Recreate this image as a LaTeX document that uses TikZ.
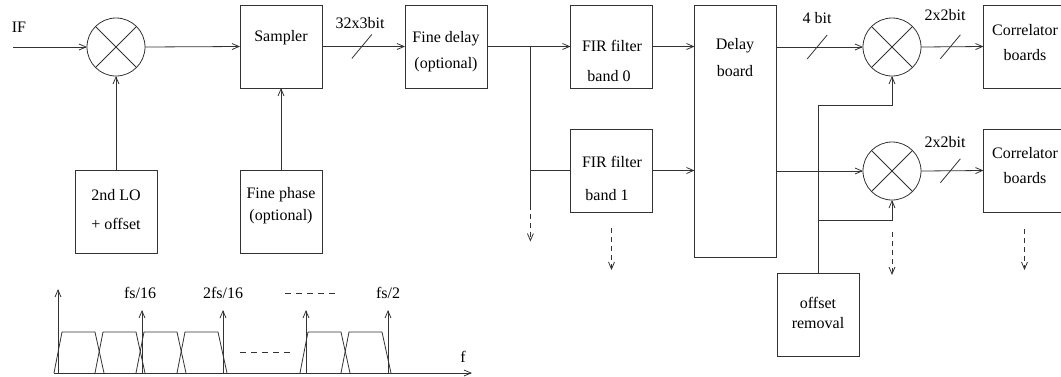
\documentclass[tikz,border=0pt]{standalone}
\usepackage{fontspec}
\setmainfont{Liberation Serif}
\usetikzlibrary{arrows.meta}

\begin{document}
\begin{tikzpicture}[
    x=1pt, y=-1pt,
    line width=0.8pt, draw=black!80,
    box/.style={draw, minimum width=82pt, minimum height=83pt, inner sep=0pt, outer sep=0pt},
    mix/.style={draw, circle, minimum size=58pt, inner sep=0pt, outer sep=0pt},
    txt/.style={inner sep=0pt, font=\fontsize{16}{18}\selectfont},
    arr/.style={-{Straight Barb[length=7pt,width=6pt]}},
    darr/.style={arr, dash pattern=on 5pt off 4pt},
    bus/.style={line width=0.8pt}
  ]
  \clip (0,0) rectangle (1061,376);

  % blocks
  \node[box] (sampler) at (281,46.5) {};
  \node[box] (lo) at (116,212) {};
  \node[box] (phase) at (281,212) {};
  \node[box] (fdelay) at (446,46.5) {};
  \node[box] (fir0) at (611.5,46.5) {};
  \node[box] (fir1) at (611.5,170.5) {};
  \node[box, minimum height=252pt] (board) at (735.5,131) {};
  \node[box] (corr0) at (1024.5,46.5) {};
  \node[box] (corr1) at (1024.5,170.5) {};
  \node[box] (offs) at (818,315) {};
  \node[mix] (mix1) at (116,47) {};
  \node[mix] (mix2) at (892,47) {};
  \node[mix] (mix3) at (892,171) {};
  \foreach \m in {mix1,mix2,mix3} {
    \draw (\m.north west) -- (\m.south east);
    \draw (\m.north east) -- (\m.south west);
  }

  % texts
  \node[txt] (iftxt) at (19,27) {IF};
  \node[txt] (samplerT) at (281,38) {Sampler};
  \node[txt] (loT1) at (116,195) {2nd LO};
  \node[txt] (loT2) at (116,224) {+ offset};
  \node[txt] (phaseT1) at (281,195) {Fine phase};
  \node[txt] (phaseT2) at (281,217) {(optional)};
  \node[txt] (fdelayT1) at (446,39) {Fine delay};
  \node[txt] (fdelayT2) at (446,65) {(optional)};
  \node[txt] (fir0T1) at (612,46) {FIR filter};
  \node[txt] (fir0T2) at (609,76) {band 0};
  \node[txt] (fir1T1) at (612,162) {FIR filter};
  \node[txt] (fir1T2) at (607,195) {band 1};
  \node[txt] (boardT1) at (735,46) {Delay};
  \node[txt] (boardT2) at (735,71) {board};
  \node[txt] (corr0T1) at (1025,30) {Correlator};
  \node[txt] (corr0T2) at (1025,55) {boards};
  \node[txt] (corr1T1) at (1025,153) {Correlator};
  \node[txt] (corr1T2) at (1025,178) {boards};
  \node[txt] (offsT1) at (818,303) {offset};
  \node[txt] (offsT2) at (818,323) {removal};
  \node[txt] (busA) at (360,23) {32x3bit};
  \node[txt] (busB) at (817,18) {4 bit};
  \node[txt] (busC) at (945,15) {2x2bit};
  \node[txt] (busD) at (945,142) {2x2bit};

  % signal path
  \coordinate (if) at (13,47);
  \draw[arr] (if) -- (mix1.west);
  \draw[arr] (mix1.east) -- (sampler.west);
  \draw[arr] (lo.north) -- (mix1.south);
  \draw[arr] (phase.north) -- (sampler.south);
  \draw[arr] (sampler.east) -- coordinate[pos=0.48] (s1) (fdelay.west);
  \draw[arr] (fdelay.east) -- coordinate[pos=0.52] (br) (fir0.west);
  \draw (br) |- (fir1.west);
  \draw (br) -- ++(0,158) coordinate (brend);
  \draw[darr] (brend) -- ++(0,37);
  \draw[arr] (fir0.east) -- (fir0.east -| board.west);
  \draw[arr] (fir1.east) -- (fir1.east -| board.west);
  \draw[arr] (mix2.west -| board.east) -- coordinate[pos=0.47] (s2) (mix2.west);
  \draw[arr] (mix3.west -| board.east) -- (mix3.west);
  \draw[arr] (mix2.east) -- coordinate[pos=0.47] (s3) (corr0.west);
  \draw[arr] (mix3.east) -- coordinate[pos=0.47] (s4) (corr1.west);
  \foreach \s in {s1,s2,s3,s4}
    \draw[bus] ([shift={(-10,12)}]\s) -- ([shift={(10,-12)}]\s);

  % offset removal
  \coordinate (j1) at (818,105);
  \coordinate (j2) at (818,220);
  \draw[arr] (offs.north) -- (j1) -| (mix2.south);
  \draw[arr] (j2) -| (mix3.south);

  % further outputs
  \draw[darr] ([yshift=-16pt]fir1.south) -- ++(0,42);
  \draw[darr] ([yshift=-32pt]mix3.south) -- ++(0,43);
  \draw[darr] ([yshift=-17pt]corr1.south) -- ++(0,41);

  % spectrum
  \draw[arr] (54,373) -- (472,373);
  \node[txt] (ftxt) at (463,357) {f};
  \draw[arr] (58,373) -- (58,289);
  \foreach \a in {54,95,136,177,300,341}
    \draw (\a,373) -- (\a+8,332) -- (\a+41,332) -- (\a+50,373);
  \foreach \x in {142,223,306,388}
    \draw[arr] (\x,373) -- (\x,310);
  \node[txt] (fs1) at (140,293) {fs/16};
  \node[txt] (fs2) at (223,293) {2fs/16};
  \node[txt] (fs3) at (388,293) {fs/2};
  \draw[dash pattern=on 6pt off 5pt] (285,293) -- (335,293);
  \draw[dash pattern=on 6pt off 5pt] (240,352) -- (290,352);
\end{tikzpicture}
\end{document}
